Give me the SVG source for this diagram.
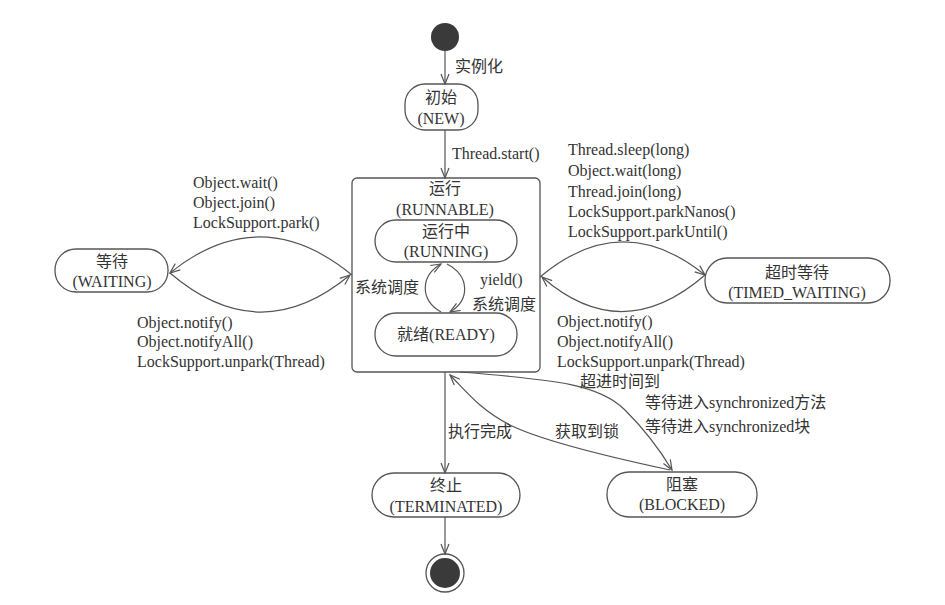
<svg xmlns="http://www.w3.org/2000/svg" width="945" height="605" viewBox="0 0 945 605">
<defs>
<marker id="arr" markerWidth="12" markerHeight="10" refX="11" refY="5" orient="auto" markerUnits="userSpaceOnUse">
<path d="M1,1 L11,5 L1,9" fill="none" stroke="#555" stroke-width="1.2"/>
</marker>
<style>
text{font-family:"Liberation Serif","Noto Sans CJK SC",serif;font-size:16px;fill:#333}
.c{text-anchor:middle}
.n{fill:#fff;stroke:#555;stroke-width:1.3}
.e{fill:none;stroke:#555;stroke-width:1.2;marker-end:url(#arr)}
.dot{fill:#3a3a3a}
</style>
</defs>
<rect width="945" height="605" fill="#fff"/>
<g id="start"><circle cx="445" cy="37" r="14" class="dot"/></g>
<g id="new"><rect x="405" y="84" width="73" height="46" rx="20" class="n"/><text x="441" y="103" class="c">初始</text><text x="441" y="124" class="c">(NEW)</text></g>
<g id="runnable"><rect x="352" y="178" width="188" height="194" rx="5" class="n"/><text x="445" y="194" class="c">运行</text><text x="445" y="215" class="c">(RUNNABLE)</text></g>
<g id="running"><rect x="375" y="220" width="142" height="42" rx="21" class="n"/><text x="446" y="237" class="c">运行中</text><text x="446" y="257" class="c">(RUNNING)</text></g>
<g id="ready"><rect x="375" y="313" width="142" height="43" rx="21" class="n"/><text x="446" y="340" class="c">就绪(READY)</text></g>
<g id="waiting"><rect x="55" y="249" width="113" height="43" rx="21" class="n"/><text x="112" y="267" class="c">等待</text><text x="112" y="287" class="c">(WAITING)</text></g>
<g id="timed"><rect x="705" y="258" width="185" height="45" rx="22" class="n"/><text x="797" y="278" class="c">超时等待</text><text x="797" y="298" class="c">(TIMED_WAITING)</text></g>
<g id="terminated"><rect x="372" y="473" width="148" height="44" rx="22" class="n"/><text x="446" y="491" class="c">终止</text><text x="446" y="512" class="c">(TERMINATED)</text></g>
<g id="blocked"><rect x="607" y="472" width="150" height="45" rx="22" class="n"/><text x="682" y="490" class="c">阻塞</text><text x="682" y="510" class="c">(BLOCKED)</text></g>
<g id="end"><circle cx="445" cy="573" r="19" fill="#fff" stroke="#555" stroke-width="1.3"/><circle cx="445" cy="573" r="15" class="dot"/></g>
<g id="edges">
<path d="M445,51 L445,84" class="e"/>
<path d="M445,130 L445,178" class="e"/>
<path d="M441,312 C420,300 420,276 441,264" class="e"/>
<path d="M447,264 C470,276 470,300 450,312" class="e"/>
<path d="M352,275 Q260,200 170,273" class="e"/>
<path d="M170,273 Q260,350 350,275" class="e"/>
<path d="M540,277 Q622,208 705,275" class="e"/>
<path d="M705,275 Q622,347 542,277" class="e"/>
<path d="M445,372 L445,473" class="e"/>
<path d="M445,517 L445,554" class="e"/>
<path d="M460,372 C560,380 600,385 625,410 C645,430 660,450 672,470" class="e"/>
<path d="M670,470 C600,455 540,440 510,425 C480,410 465,390 450,375" class="e"/>
</g>
<g id="labels">
<text x="455" y="72">实例化</text>
<text x="452" y="159">Thread.start()</text>
<text x="193" y="188">Object.wait()</text>
<text x="193" y="208">Object.join()</text>
<text x="193" y="228">LockSupport.park()</text>
<text x="137" y="328">Object.notify()</text>
<text x="137" y="347">Object.notifyAll()</text>
<text x="137" y="367">LockSupport.unpark(Thread)</text>
<text x="568" y="155">Thread.sleep(long)</text>
<text x="568" y="176">Object.wait(long)</text>
<text x="568" y="197">Thread.join(long)</text>
<text x="568" y="217">LockSupport.parkNanos()</text>
<text x="568" y="237">LockSupport.parkUntil()</text>
<text x="557" y="327">Object.notify()</text>
<text x="557" y="347">Object.notifyAll()</text>
<text x="557" y="367">LockSupport.unpark(Thread)</text>
<text x="355" y="293">系统调度</text>
<text x="480" y="285">yield()</text>
<text x="472" y="310">系统调度</text>
<text x="448" y="437">执行完成</text>
<text x="555" y="437">获取到锁</text>
<text x="580" y="387">超进时间到</text>
<text x="645" y="408">等待进入synchronized方法</text>
<text x="645" y="432">等待进入synchronized块</text>
</g>
</svg>
